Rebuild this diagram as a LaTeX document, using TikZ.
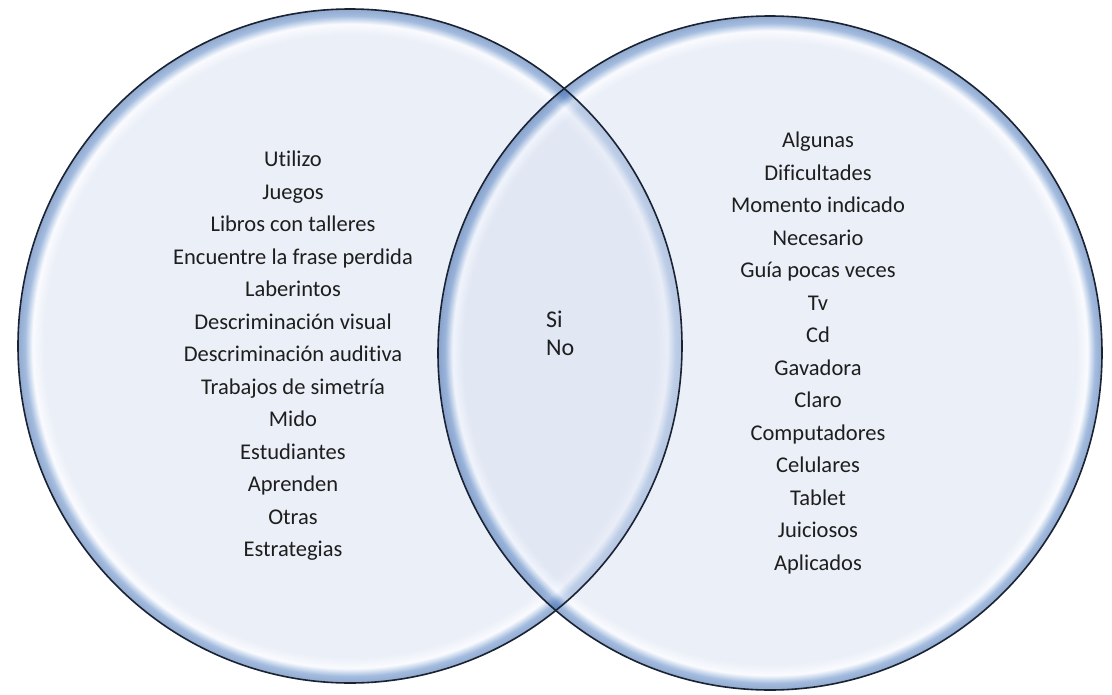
\documentclass[tikz,border=0pt]{standalone}
\usepackage{fontspec}
\setmainfont{Carlito}[Ligatures=CommonOff]
\definecolor{bin}{RGB}{217,225,241}
\definecolor{bring}{RGB}{245,248,255}
\definecolor{bband}{RGB}{70,120,190}
\definecolor{bedge}{RGB}{40,85,160}
\definecolor{outl}{RGB}{25,35,52}
\definecolor{txt}{RGB}{30,30,30}
\pgfdeclareradialshading{bubble}{\pgfpoint{0bp}{0bp}}{color(0bp)=(bin); color(23.1bp)=(bin); color(23.9bp)=(bring); color(24.5bp)=(bband); color(25bp)=(bedge); color(50bp)=(bedge)}
\begin{document}
\begin{tikzpicture}[x=1pt,y=-1pt,
  listtext/.style={font=\fontsize{22.5}{32.5}\selectfont, align=center, text=txt, inner sep=0pt},
  midtext/.style={font=\fontsize{24}{28}\selectfont, align=left, text=txt, inner sep=0pt},
  bubblefill/.style={shading=bubble, fill opacity=0.5},
  rim/.style={draw=outl, line width=1.6pt}]
\useasboundingbox (0,0) rectangle (1112,694);
\fill[white] (0,0) rectangle (1112,694);
% circles
\shade[bubblefill] (350,346) ellipse [x radius=332, y radius=337];
\shade[bubblefill] (770,353) ellipse [x radius=332, y radius=337];
\draw[rim] (350,346) ellipse [x radius=332, y radius=337];
\draw[rim] (770,353) ellipse [x radius=332, y radius=337];
% texts
\node[listtext] (lefttext) at (293,356) {Utilizo\\Juegos\\Libros con talleres\\Encuentre la frase perdida\\Laberintos\\Descriminación visual\\Descriminación auditiva\\Trabajos de simetría\\Mido\\Estudiantes\\Aprenden\\Otras\\Estrategias};
\node[listtext] (righttext) at (818,353) {Algunas\\Dificultades\\Momento indicado\\Necesario\\Guía pocas veces\\Tv\\Cd\\Gavadora\\Claro\\Computadores\\Celulares\\Tablet\\Juiciosos\\Aplicados};
\node[midtext, anchor=west] (midtext) at (546,333) {Si\\No};
\end{tikzpicture}
\end{document}
